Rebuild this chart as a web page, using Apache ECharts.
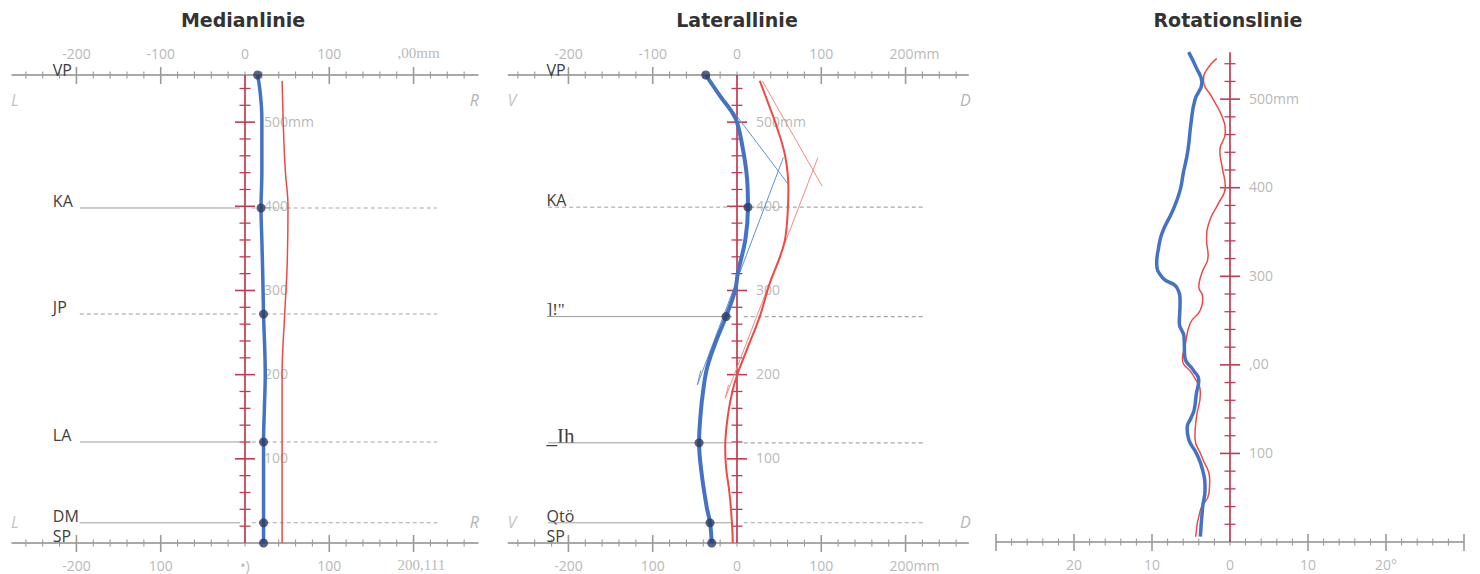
<!DOCTYPE html>
<html><head><meta charset="utf-8">
<script src="https://cdn.jsdelivr.net/npm/echarts@6/dist/echarts.min.js"></script>
<style>html,body{margin:0;padding:0;background:#fff}#c{width:1480px;height:574px}</style>
</head><body><div id="c"></div>
<script>
// ---------------- DATA ----------------
const panelTitles = ['Medianlinie', 'Laterallinie', 'Rotationslinie'];

const mmTicks = [-260,-240,-220,-200,-180,-160,-140,-120,-100,-80,-60,-40,-20,0,20,40,60,80,100,120,140,160,180,200,220,240,260];
const mmMajorTicks = [-200,-100,100,200];
const mmLabelValues = [-200,-100,0,100,200];
const medianTopLabels = ['-200','-100','0','100',',00mm'];
const medianBottomLabels = ['-200','100','•)','100','200,111'];
const lateralTopLabels = ['-200','-100','0','100','200mm'];
const lateralBottomLabels = ['-200','100','0','100','200mm'];

const heightTicks = [20,40,60,80,100,120,140,160,180,200,220,240,260,280,300,320,340,360,380,400,420,440,460,480,500,520,540];
const heightMajorTicks = [100,200,300,400,500];
const heightLabelValues = [100,200,300,400,500];
const medianHeightLabels = ['100','200','300','400','500mm'];
const lateralHeightLabels = ['100','200','300','400','500mm'];
const rotationHeightLabels = ['100',',00','300','400','500mm'];

const degTicks = [-30,-28,-26,-24,-22,-20,-18,-16,-14,-12,-10,-8,-6,-4,-2,0,2,4,6,8,10,12,14,16,18,20,22,24,26,28,30];
const degMajorTicks = [-30,-20,-10,10,20,30];
const degLabelValues = [-20,-10,0,10,20];
const degLabels = ['20','10','0','10','20°'];

const medianLandmarkNames = ['VP','KA','JP','LA','DM','SP'];
const medianLandmarkHeights = [556,398,272,120,24,0];
const medianLandmarkOffsets = [15,19,22,22,22,22];

const lateralLandmarkNames = ['VP','KA',']!"','_Ih','Qtö','SP'];
const lateralLandmarkHeights = [556,399,269,119,24,0];
const lateralLandmarkOffsets = [-37,13,-13,-45,-32,-30];

// [offset mm, height mm]
const medianBlue = [[15,556],[18,535],[20,505],[20,470],[20,440],[19,398],[20,360],[21,320],[22,272],[24,200],[23,160],[22,120],[22,60],[22,24],[22,0]];
const medianRed = [[44,549],[46,480],[48,440],[51,400],[50,330],[47,270],[44,200],[44,100],[44,0]];

const lateralBlue = [[-37,556],[-20,531],[-6,512],[0,500],[7,468],[12,432],[13,399],[10,361],[1,321],[-2,301],[-13,269],[-24,242],[-35,210],[-40,182],[-43,155],[-45,119],[-42,83],[-36,43],[-32,24],[-30,0]];
const lateralRed = [[27,549],[38,520],[48,492],[56,465],[60,440],[61,420],[60,390],[57,361],[51,340],[39,309],[27,269],[13,233],[1,202],[-5,182],[-11,150],[-14,114],[-13,90],[-9,60],[-6,24],[-5,0]];
const lateralBlueGuideA = [[-37,556],[61,426]];
const lateralBlueGuideB = [[55,458],[-47,188],[-43,205]];
const lateralRedGuideA = [[30,549],[101,424]];
const lateralRedGuideB = [[96,458],[-14,172],[-10,188]];

// [degrees, height mm]
const rotationBlue = [[-5.3,553],[-4.3,535],[-3.6,519],[-4.5,499],[-5.0,473],[-5.4,442],[-6.0,416],[-6.4,397],[-7.3,375],[-8.7,349],[-9.2,330],[-9.4,315],[-8.6,298],[-6.8,287],[-6.4,270],[-6.5,247],[-5.9,232],[-5.8,209],[-4.7,194],[-4.0,183],[-4.3,168],[-4.6,149],[-5.0,140],[-5.5,129],[-5.3,116],[-4.3,100],[-3.5,81],[-3.2,59],[-3.5,40],[-3.8,6]];
const rotationRed = [[-1.7,546],[-3.0,533],[-3.4,521],[-2.3,502],[-1.0,480],[-0.6,462],[-1.3,442],[-1.0,423],[-0.6,401],[-1.5,382],[-2.6,363],[-3.0,341],[-2.8,323],[-3.6,304],[-4.0,288],[-3.5,277],[-3.8,262],[-5.1,247],[-5.8,220],[-6.1,207],[-4.7,188],[-3.8,168],[-4.3,141],[-4.5,118],[-3.6,96],[-2.6,70],[-2.7,55],[-3.8,36],[-4.4,6]];

// ---------------- RENDER ----------------
const COL = { axis:'#8c8c8c', tick:'#9a9a9a', red:'#c43a52', label:'#b9b9b9', mark:'#404040', blue:'#4472c4', dot:'#2e3b63', lred:'#ee4a45' };
const SANS = '"Open Sans", "Noto Sans", sans-serif';
const SERIF = '"Liberation Serif", serif';

function txt(x, y, text, font, fill, align, valign) {
  return { type:'text', x:x, y:y, style:{ text:text, font:font, fill:fill, align:align, textAlign:align, verticalAlign:valign, textVerticalAlign:valign } };
}
function seg(p, q, stroke, lw, dash) {
  const s = { stroke:stroke, lineWidth:lw };
  if (dash) s.lineDash = dash;
  return { type:'line', shape:{ x1:p[0], y1:p[1], x2:q[0], y2:q[1] }, style:s };
}
function hAxis(api, out, yVal, from, to, ticks, majors, lv, labels, above) {
  const a = api.coord([from, yVal]), b = api.coord([to, yVal]);
  out.push(seg(a, b, COL.axis, 1.6));
  ticks.forEach(t => {
    const p = api.coord([t, yVal]);
    const maj = majors.indexOf(t) >= 0;
    out.push(seg([p[0], p[1] - (maj ? 8 : 3.5)], [p[0], p[1] + (maj ? 9 : 3.5)], COL.tick, maj ? 1.6 : 1.1));
  });
  lv.forEach((v, i) => {
    const p = api.coord([v, yVal]);
    const s = labels[i];
    const y = above ? p[1] - 22 : p[1] + 22;
    const serif = s.indexOf(',') >= 0;
    const font = serif ? '15px ' + SERIF : '14px ' + SANS;
    if (s.length >= 5 && s[0] !== '-') out.push(txt(p[0] - 16, y, s, font, COL.label, 'left', 'middle'));
    else out.push(txt(p[0], y, s, font, COL.label, 'center', 'middle'));
  });
}
function vAxis(api, out, from, to, ticks, majors, lv, labels) {
  out.push(seg(api.coord([0, from]), api.coord([0, to]), COL.red, 1.7));
  ticks.forEach(t => {
    const p = api.coord([0, t]);
    const maj = majors.indexOf(t) >= 0;
    const L = maj ? 10 : 5.5;
    out.push(seg([p[0] - L, p[1]], [p[0] + L, p[1]], COL.red, maj ? 1.6 : 1.3));
  });
  lv.forEach((v, i) => {
    const p = api.coord([0, v]);
    out.push(txt(p[0] + 19, p[1] - 1, labels[i], '14px ' + SANS, COL.label, 'left', 'middle'));
  });
}
function landmarks(api, out, names, heights, labelX, lineFrom, lineTo, solidLeft) {
  names.forEach((n, i) => {
    const h = heights[i];
    const lp = api.coord([labelX, h]);
    const font = (n === '_Ih' ? '21px ' + SERIF : (n === ']!"' ? '17px ' + SERIF : '16px ' + SANS));
    const dy = i === 0 ? -5 : -7;
    out.push(txt(lp[0], lp[1] + dy, n, font, COL.mark, 'left', 'middle'));
    if (i === 0 || i === names.length - 1) return;
    const a = api.coord([lineFrom, h]), m1 = api.coord([-6, h]), m2 = api.coord([8, h]), b = api.coord([lineTo, h]);
    out.push(seg(a, m1, '#9d9d9d', 1, solidLeft[i] ? null : [4, 3]));
    out.push(seg(m2, b, '#a8a8a8', 1.1, [4, 3]));
  });
}
function axesSeries(idx, build) {
  return {
    type:'custom', coordinateSystem:'cartesian2d', xAxisIndex:idx, yAxisIndex:idx,
    data:[[0,0]], silent:true, clip:false, z:1,
    renderItem: function (params, api) { const out = []; build(api, out); return { type:'group', children:out }; }
  };
}
function lineSeries(idx, data, color, width, smooth, z) {
  return { type:'line', xAxisIndex:idx, yAxisIndex:idx, data:data, showSymbol:false, smooth:smooth, silent:true, z:z,
    lineStyle:{ color:color, width:width }, itemStyle:{ color:color } };
}
function zip(xs, ys) { return xs.map((x, i) => [x, ys[i]]); }
function sideLetter(api, out, xv, yv, t, fill) {
  out.push(txt(api.coord([xv, 0])[0], api.coord([0, yv])[1], t, 'italic 16px ' + SANS, fill, 'center', 'middle'));
}

const series = [
  axesSeries(0, (api, out) => {
    hAxis(api, out, 556, -277, 277, mmTicks, mmMajorTicks, mmLabelValues, medianTopLabels, true);
    hAxis(api, out, 0, -277, 277, mmTicks, mmMajorTicks, mmLabelValues, medianBottomLabels, false);
    vAxis(api, out, 0, 556, heightTicks, heightMajorTicks, heightLabelValues, medianHeightLabels);
    landmarks(api, out, medianLandmarkNames, medianLandmarkHeights, -228, -196, 228, [false, true, false, true, true, false]);
    sideLetter(api, out, -273, 526, 'L', '#c4c4c4');
    sideLetter(api, out, 272, 526, 'R', '#b4b4b4');
    sideLetter(api, out, -273, 25, 'L', '#c4c4c4');
    sideLetter(api, out, 272, 25, 'R', '#b4b4b4');
  }),
  axesSeries(1, (api, out) => {
    hAxis(api, out, 556, -272, 275, mmTicks, mmMajorTicks, mmLabelValues, lateralTopLabels, true);
    hAxis(api, out, 0, -272, 275, mmTicks, mmMajorTicks, mmLabelValues, lateralBottomLabels, false);
    vAxis(api, out, 0, 556, heightTicks, heightMajorTicks, heightLabelValues, lateralHeightLabels);
    landmarks(api, out, lateralLandmarkNames, lateralLandmarkHeights, -226, -224, 224, [false, false, true, true, true, false]);
    sideLetter(api, out, -267, 526, 'V', '#c4c4c4');
    sideLetter(api, out, 271, 526, 'D', '#b4b4b4');
    sideLetter(api, out, -267, 25, 'V', '#c4c4c4');
    sideLetter(api, out, 271, 25, 'D', '#b4b4b4');
  }),
  axesSeries(2, (api, out) => {
    hAxis(api, out, 0, -30, 30, degTicks, degMajorTicks, degLabelValues, degLabels, false);
    vAxis(api, out, 0, 553, heightTicks, heightMajorTicks, heightLabelValues, rotationHeightLabels);
  }),
  // Medianlinie
  lineSeries(0, medianRed, COL.lred, 1.5, 0.4, 3),
  lineSeries(0, medianBlue, COL.blue, 3.5, 0.4, 4),
  { type:'scatter', xAxisIndex:0, yAxisIndex:0, data:zip(medianLandmarkOffsets, medianLandmarkHeights), symbolSize:9, itemStyle:{ color:COL.dot }, z:6, silent:true },
  // Laterallinie
  lineSeries(1, lateralRedGuideA, '#f58a86', 1, false, 2),
  lineSeries(1, lateralRedGuideB, '#f58a86', 1, false, 2),
  lineSeries(1, lateralBlueGuideA, '#5f93dc', 1, false, 2),
  lineSeries(1, lateralBlueGuideB, '#5f93dc', 1, false, 2),
  lineSeries(1, lateralRed, COL.lred, 2, 0.4, 3),
  lineSeries(1, lateralBlue, COL.blue, 4, 0.4, 4),
  { type:'scatter', xAxisIndex:1, yAxisIndex:1, data:zip(lateralLandmarkOffsets, lateralLandmarkHeights), symbolSize:9, itemStyle:{ color:COL.dot }, z:6, silent:true },
  // Rotationslinie
  lineSeries(2, rotationRed, COL.lred, 1.5, 0.5, 3),
  lineSeries(2, rotationBlue, COL.blue, 3.5, 0.5, 4)
];

const TITLE_FONT = 'bold 19px "DejaVu Sans", sans-serif';
const chart = echarts.init(document.getElementById('c'), null, { renderer:'svg' });
chart.setOption({
  animation:false,
  backgroundColor:'#ffffff',
  grid:[
    { left:9, top:75, width:472, height:468 },
    { left:501, top:75, width:472, height:468 },
    { left:996, top:46, width:468, height:496 }
  ],
  xAxis:[
    { type:'value', gridIndex:0, min:-280, max:280, show:false },
    { type:'value', gridIndex:1, min:-280, max:280, show:false },
    { type:'value', gridIndex:2, min:-30, max:30, show:false }
  ],
  yAxis:[
    { type:'value', gridIndex:0, min:0, max:556, show:false },
    { type:'value', gridIndex:1, min:0, max:556, show:false },
    { type:'value', gridIndex:2, min:0, max:560, show:false }
  ],
  graphic:[
    { type:'text', x:243, y:20, style:{ text:panelTitles[0], font:TITLE_FONT, fill:'#333', align:'center', textAlign:'center', verticalAlign:'middle', textVerticalAlign:'middle' } },
    { type:'text', x:737, y:20, style:{ text:panelTitles[1], font:TITLE_FONT, fill:'#333', align:'center', textAlign:'center', verticalAlign:'middle', textVerticalAlign:'middle' } },
    { type:'text', x:1228, y:20, style:{ text:panelTitles[2], font:TITLE_FONT, fill:'#333', align:'center', textAlign:'center', verticalAlign:'middle', textVerticalAlign:'middle' } }
  ],
  series:series
});
</script>
</body></html>
